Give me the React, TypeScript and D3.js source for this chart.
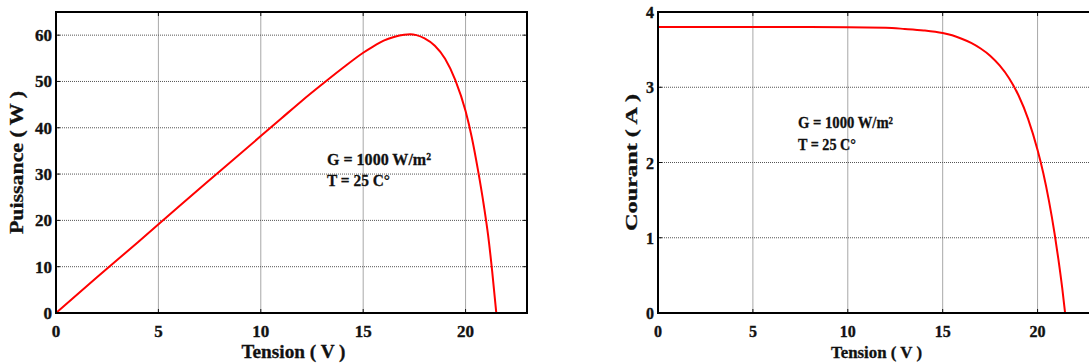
import React from "react";
import * as d3 from "d3";

// P-V curve (left)
const pvVoltage = [0, 2, 4, 6, 8, 10, 11, 12, 13, 14, 15, 15.5, 16, 16.5, 17, 17.3, 17.6, 18, 18.5, 19, 19.5, 20, 20.3, 20.6, 20.9, 21.1, 21.3, 21.5];
const pvPower = [0, 7.7, 15.3, 23.0, 30.6, 38.2, 42.0, 45.8, 49.4, 52.9, 56.2, 57.6, 58.8, 59.6, 60.1, 60.2, 60.0, 59.3, 57.7, 54.9, 50.3, 43.6, 38.0, 31.0, 23.0, 16.8, 9.0, 0];

// I-V curve (right)
const ivVoltage = [0, 4, 8, 12, 13, 14, 15, 15.5, 16, 16.5, 17, 17.5, 18, 18.5, 19, 19.5, 20, 20.3, 20.6, 20.9, 21.1, 21.3, 21.45];
const ivCurrent = [3.8, 3.8, 3.8, 3.79, 3.775, 3.755, 3.72, 3.69, 3.645, 3.59, 3.515, 3.42, 3.29, 3.12, 2.89, 2.58, 2.165, 1.86, 1.49, 1.05, 0.71, 0.33, 0];

const xTicks = [0, 5, 10, 15, 20];
const pTicks = [0, 10, 20, 30, 40, 50, 60];
const iTicks = [0, 1, 2, 3, 4];

const FONT = "'Liberation Serif', 'Times New Roman', serif";

type PanelProps = {
  left: number;
  right: number;
  top: number;
  bottom: number;
  xMax: number;
  yMax: number;
  yTicks: number[];
  xs: number[];
  ys: number[];
  yLabel: string;
  yLabelX: number;
  yLabelLen: number;
  xLabelLen: number;
  tickFont: number;
  labelFont: number;
  note: { x: number; y1: number; y2: number; w1: number; w2: number; size: number };
};

function Panel(p: PanelProps) {
  const x = d3.scaleLinear().domain([0, p.xMax]).range([p.left, p.right]);
  const y = d3.scaleLinear().domain([0, p.yMax]).range([p.bottom, p.top]);
  const pts = p.xs.map((v, i) => [v, p.ys[i]] as [number, number]);
  const line = d3
    .line<[number, number]>()
    .x(d => x(d[0]))
    .y(d => y(d[1]))
    .curve(d3.curveMonotoneX);
  const tl = 4;
  return (
    <g fontFamily={FONT} fontWeight="bold" fill="#111">
      <rect x={p.left} y={p.top} width={p.right - p.left} height={p.bottom - p.top} fill="#fff" />
      {xTicks.filter(t => t > 0).map(t => (
        <line key={"gx" + t} x1={x(t)} x2={x(t)} y1={p.top} y2={p.bottom} stroke="#a8a8a8" strokeWidth={1} />
      ))}
      {p.yTicks.filter(t => t > 0 && t < p.yMax).map(t => (
        <line key={"gy" + t} x1={p.left} x2={p.right} y1={y(t)} y2={y(t)} stroke="#555" strokeWidth={1} strokeDasharray="1,1" />
      ))}
      {xTicks.map(t => (
        <g key={"tx" + t}>
          <line x1={x(t)} x2={x(t)} y1={p.bottom} y2={p.bottom - tl} stroke="#111" />
          <line x1={x(t)} x2={x(t)} y1={p.top} y2={p.top + tl} stroke="#111" />
          <text x={x(t)} y={p.bottom + 24} textAnchor="middle" fontSize={p.tickFont} stroke="#111" strokeWidth={0.35}>{t}</text>
        </g>
      ))}
      {p.yTicks.map(t => (
        <g key={"ty" + t}>
          <line x1={p.left} x2={p.left + tl} y1={y(t)} y2={y(t)} stroke="#111" />
          <line x1={p.right} x2={p.right - tl} y1={y(t)} y2={y(t)} stroke="#111" />
          <text x={p.left - 4} y={y(t) + 6} textAnchor="end" fontSize={p.tickFont} stroke="#111" strokeWidth={0.35}>{t}</text>
        </g>
      ))}
      <path d={line(pts) || ""} fill="none" stroke="#ff0000" strokeWidth={2} />
      <rect x={p.left} y={p.top} width={p.right - p.left} height={p.bottom - p.top} fill="none" stroke="#000" strokeWidth={2} />
      <text x={(p.left + Math.min(p.right, 1089)) / 2 + (p.right > 1089 ? 3 : 2)} y={p.bottom + 45} textAnchor="middle" fontSize={p.labelFont}
        textLength={p.xLabelLen} lengthAdjust="spacingAndGlyphs" stroke="#111" strokeWidth={0.3}>Tension ( V )</text>
      <text transform={`translate(${p.yLabelX},${(p.top + p.bottom) / 2}) rotate(-90)`} textAnchor="middle" fontSize={p.labelFont}
        textLength={p.yLabelLen} lengthAdjust="spacingAndGlyphs" stroke="#111" strokeWidth={0.3}>{p.yLabel}</text>
      <text x={p.note.x} y={p.note.y1} fontSize={p.note.size} textLength={p.note.w1} lengthAdjust="spacingAndGlyphs" stroke="#111" strokeWidth={0.3}>G = 1000 W/m²</text>
      <text x={p.note.x} y={p.note.y2} fontSize={p.note.size} textLength={p.note.w2} lengthAdjust="spacingAndGlyphs" stroke="#111" strokeWidth={0.3}>T = 25 C°</text>
    </g>
  );
}

export default function App() {
  return (
    <svg width={1089} height={364} style={{ position: "absolute", left: 0, top: 0, background: "#fff" }}>
      <Panel left={56} right={527} top={12} bottom={313} xMax={23} yMax={65} yTicks={pTicks}
        xs={pvVoltage} ys={pvPower} yLabel="Puissance ( W )" yLabelX={23} yLabelLen={143} xLabelLen={104}
        tickFont={17} labelFont={18}
        note={{ x: 327, y1: 165, y2: 186, w1: 104, w2: 63, size: 17 }} />
      <Panel left={658} right={1094.5} top={12} bottom={313} xMax={23} yMax={4} yTicks={iTicks}
        xs={ivVoltage} ys={ivCurrent} yLabel="Courant ( A )" yLabelX={637} yLabelLen={137} xLabelLen={91}
        tickFont={16} labelFont={17}
        note={{ x: 798, y1: 128, y2: 150, w1: 95, w2: 58, size: 16 }} />
    </svg>
  );
}
